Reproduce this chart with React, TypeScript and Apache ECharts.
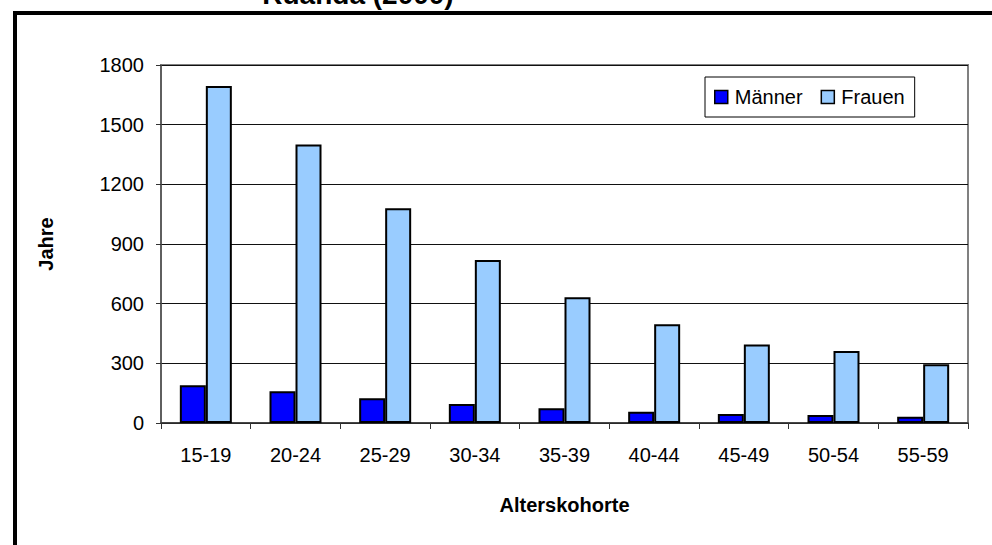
import React, { useEffect, useRef } from "react";
import * as echarts from "echarts";

// Age cohorts and the two series (years)
const cohorts = ["15-19", "20-24", "25-29", "30-34", "35-39", "40-44", "45-49", "50-54", "55-59"];
const maenner = [190, 160, 124, 95, 74, 57, 45, 40, 32];
const frauen = [1695, 1400, 1080, 820, 632, 496, 395, 362, 295];

const titleText = "Ruanda (2000)";
const yName = "Jahre";
const xName = "Alterskohorte";
const FONT = "'Liberation Sans', Arial, sans-serif";

export default function App() {
  const ref = useRef<HTMLDivElement>(null);

  useEffect(() => {
    if (!ref.current) return;
    const chart = echarts.init(ref.current, undefined, { renderer: "svg" });
    chart.setOption({
      animation: false,
      backgroundColor: "#ffffff",
      textStyle: { fontFamily: FONT, color: "#000" },
      graphic: [
        {
          // chart frame, running off the right and bottom edges
          type: "rect",
          x: 15,
          y: 13,
          shape: { x: 0, y: 0, width: 1000, height: 600 },
          style: { fill: "none", stroke: "#000", lineWidth: 4 },
          silent: true,
          z: 100,
        },
        {
          type: "text",
          x: 358,
          y: 8,
          style: {
            text: titleText,
            fontFamily: FONT,
            fontWeight: "bold",
            fontSize: 28,
            fill: "#000",
            align: "center",
            verticalAlign: "bottom",
          },
        },
      ],
      legend: {
        left: 705,
        top: 77,
        padding: [10, 10, 10, 9],
        itemWidth: 13,
        itemHeight: 13,
        itemGap: 18,
        borderColor: "#000",
        borderWidth: 1,
        backgroundColor: "#fff",
        textStyle: { fontFamily: FONT, fontSize: 20, color: "#000", padding: [0, 0, 0, 2] },
        data: [
          { name: "Männer", icon: "rect", itemStyle: { borderColor: "#000", borderWidth: 1.5 } },
          { name: "Frauen", icon: "rect", itemStyle: { borderColor: "#000", borderWidth: 1.5 } },
        ],
      },
      grid: {
        left: 161,
        top: 65,
        right: 24,
        bottom: 122,
        show: true,
        borderColor: "#808080",
        borderWidth: 2,
        backgroundColor: "#fff",
      },
      xAxis: {
        type: "category",
        data: cohorts,
        name: xName,
        nameLocation: "middle",
        nameGap: 72,
        nameTextStyle: { fontFamily: FONT, fontWeight: "bold", fontSize: 20, color: "#000" },
        axisLine: { show: true, lineStyle: { color: "#333", width: 1.5 } },
        axisTick: { show: true, inside: false, length: 6, lineStyle: { color: "#333" } },
        axisLabel: { fontFamily: FONT, fontSize: 20, color: "#000", margin: 22 },
        splitLine: { show: false },
      },
      yAxis: {
        type: "value",
        min: 0,
        max: 1800,
        interval: 300,
        name: yName,
        nameLocation: "middle",
        nameGap: 105,
        nameRotate: 90,
        nameTextStyle: { fontFamily: FONT, fontWeight: "bold", fontSize: 20, color: "#000" },
        axisLine: { show: true, lineStyle: { color: "#555", width: 1.5 } },
        axisTick: { show: true, inside: false, length: 5, lineStyle: { color: "#333" } },
        axisLabel: {
          fontFamily: FONT,
          fontSize: 20,
          color: "#000",
          margin: 17,
          formatter: (v: number) => String(v),
        },
        splitLine: { show: true, lineStyle: { color: "#111", width: 1 } },
      },
      series: [
        {
          name: "Männer",
          type: "bar",
          data: maenner,
          barWidth: 26,
          barGap: "0%",
          itemStyle: { color: "#0000FF", borderColor: "#000", borderWidth: 2 },
        },
        {
          name: "Frauen",
          type: "bar",
          data: frauen,
          barWidth: 26,
          barGap: "0%",
          itemStyle: { color: "#99CCFF", borderColor: "#000", borderWidth: 2 },
        },
      ],
    });
    return () => chart.dispose();
  }, []);

  return (
    <div
      ref={ref}
      style={{ position: "fixed", left: 0, top: 0, width: 992, height: 545, background: "#fff" }}
    />
  );
}
